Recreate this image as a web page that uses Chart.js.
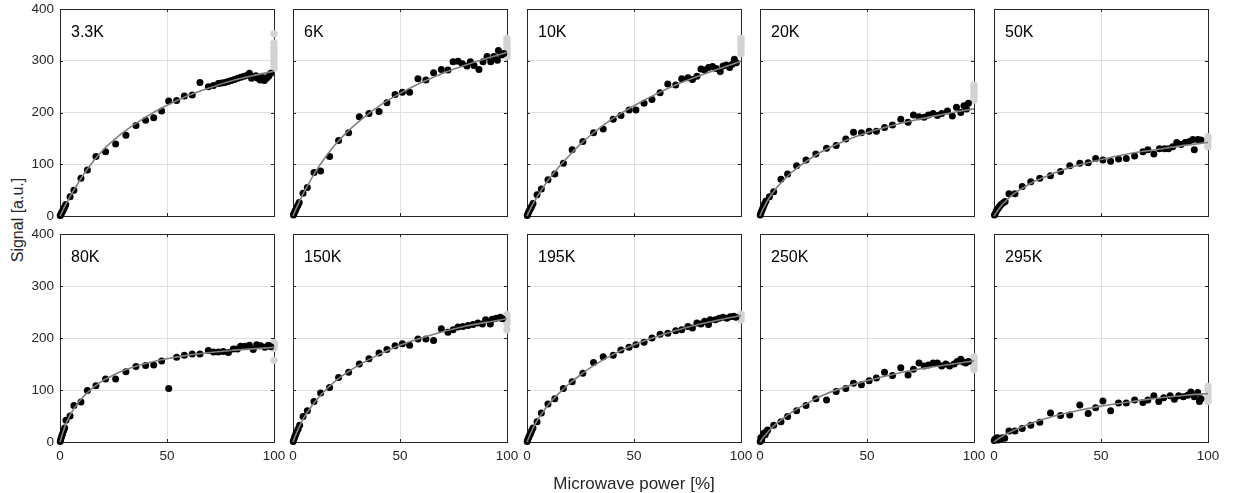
<!DOCTYPE html>
<html>
<head>
<meta charset="utf-8">
<script src="https://cdn.jsdelivr.net/npm/chart.js@4.4.1/dist/chart.umd.min.js"></script>
<style>
  html, body { margin: 0; padding: 0; background: #fff; }
  #wrap { position: relative; width: 1233px; height: 493px; overflow: hidden; background: #fff; }
  .cell { position: absolute; }
  #ytitle { position: absolute; left: 18px; top: 220px; transform: translate(-50%, -50%) rotate(-90deg);
            font: 16px "Liberation Sans", Arial, sans-serif; color: #262626; white-space: nowrap; }
</style>
</head>
<body>
<div id="wrap"><div id="ytitle">Signal [a.u.]</div></div>
<script>
// ---------- data ----------
const temperatures = ['3.3K','6K','10K','20K','50K','80K','150K','195K','250K','295K'];
const powerTicks = [0, 50, 100];
const signalTicks = [0, 100, 200, 300, 400];

// fit-curve sample positions (microwave power %) shared by all panels
const fitPower = [0,1,2,3,5,7.5,10,15,20,25,30,40,50,60,70,80,90,100];

const fit_3K3 = [0,8,17,25,40,57,74,103,127,146,163,191,214,233,248,261,271,280];
const fit_6K  = [0,10,19,28,45,64,82,113,139,161,180,212,237,258,276,291,304,316];
const fit_10K = [0,9,17,25,39,55,70,95,118,139,157,188,213,235,254,270,285,299];
const fit_20K = [0,10,18,26,39,53,65,85,101,115,127,146,161,173,183,192,200,207];
const fit_50K = [0,6,12,18,27,37,45,58,69,78,86,99,109,118,125,131,137,142];
const fit_80K = [0,14,26,37,54,70,83,103,118,129,138,151,160,167,172,176,179,182];
const fit_150K = [0,11,21,30,46,62,76,99,118,133,146,168,186,200,212,222,230,237];
const fit_195K = [0,10,19,28,43,58,72,94,113,129,144,168,187,202,215,226,235,243];
const fit_250K = [0,6,11,16,25,35,43,58,70,81,91,106,118,128,137,144,150,156];
const fit_295K = [0,3,6,9,14,19,24,32,40,46,52,61,69,75,81,86,90,93];

// measured points
const pow_3K3 = [0.1,0.4,0.7,1.0,1.4,1.8,2.2,2.7,4.7,6.5,9.8,12.8,16.8,21.3,26,30.8,35.5,40,43.8,47.5,50.8,54.5,58.1,61.8,65.4,69.3,71.7,74,75.5,77,78.5,80,81.5,83,84.5,86,87.5,88.5,89.5,90.5,91.5,92.5,93.5,94.5,95.5,96.5,97.5,98.5];
const sig_3K3 = [1,3,6,8,11,14,18,22,37,50,73,89,115,124,139,156,175,185,190,203,222,223,232,234,258,250,252,256,257,258,260,262,264,266,268,270,272,276,266,268,271,266,263,268,262,266,270,276];
const pow_6K = [0.2,0.5,0.9,1.3,1.8,2.3,2.9,4.7,6.7,9.8,12.9,17.1,21.3,26,31,35.5,40.2,43.9,47.7,51.1,54.5,58.4,62.1,65.7,69.3,72.4,74.8,77.1,79.1,81.3,82.9,84.6,86.9,88.8,90.7,92.4,93.9,95.5,96,97.4,98.5];
const sig_6K = [2,5,9,12,17,21,26,44,55,84,87,115,146,161,192,198,202,219,235,239,239,265,263,277,283,282,298,299,294,290,298,291,283,298,308,298,308,301,320,311,314];
const pow_10K = [0.1,0.4,0.8,1.2,1.7,2.2,2.8,4.7,6.7,9.8,13,17,21.1,26.1,31.1,35.6,40.3,43.9,47.7,50.9,54.7,58.4,62.2,65.8,69.5,72.3,75.2,77.3,79.4,81.3,83,84.8,86.7,88.4,90.3,91.6,93.1,94.7,95.9,96.9,97.8];
const sig_10K = [1,4,8,11,15,19,24,41,52,70,81,102,128,144,161,168,187,194,205,205,218,225,238,255,253,265,267,264,270,284,282,287,289,285,279,290,292,287,293,303,296];
const pow_20K = [0.1,0.4,0.8,1.2,1.7,2.2,2.8,4.4,6.4,9.8,12.9,17.1,21.5,26.1,31.1,35.6,40.1,43.7,47.4,51,54.4,58.2,61.9,65.8,69.2,71.7,74.3,76.7,78.7,80.9,82.9,84.9,87.6,89.9,91.8,93.8,95.3,96.5,97.4];
const sig_20K = [2,6,10,14,19,24,29,37,47,71,81,97,108,120,131,136,149,162,161,164,164,171,176,187,181,195,192,191,195,198,194,198,203,193,210,200,213,207,218];
const pow_50K = [0.2,0.6,1.0,1.5,2.0,2.6,3.3,4.2,5.2,7,9.8,13.2,17.2,21.4,26.4,31.1,35.4,40.1,44,47.5,50.9,54.5,58.2,61.8,65.7,69.6,71.9,74.7,77.3,79.7,81.5,83.5,85.4,87.4,89.3,91.3,92.9,93.6,95.2,96.7];
const sig_50K = [2,5,9,12,15,19,22,25,28,43,43,57,66,73,78,86,97,102,103,111,108,106,110,111,116,124,128,120,130,130,130,134,142,138,142,144,148,128,148,147];
const pow_80K = [0.1,0.4,0.8,1.2,1.7,2.2,2.8,4.7,6.5,9.8,12.8,16.8,21.3,26,30.8,35.5,40,43.8,47.5,50.8,54.5,58.1,61.8,65.4,69.3,71.7,74,76.3,78.7,81,82.9,84.4,86.4,88.5,90.3,91.9,93.8,95.8,97.4,98.5];
const sig_80K = [1,6,11,16,22,27,42,50,70,77,99,108,121,121,135,145,147,148,156,103,163,167,169,169,176,173,173,174,172,179,179,184,184,186,178,187,185,182,186,183];
const pow_150K = [0.1,0.4,0.8,1.3,1.8,2.4,3.1,4.7,6.7,9.8,12.9,17.1,21.3,26,31,35.5,40.2,43.9,47.7,51.1,54.5,58.4,62.1,65.7,69.3,72.4,74.8,77.1,79.4,81.8,84.1,86.4,88.5,90,92.2,93.1,95,96.9,97.8];
const sig_150K = [1,5,10,15,20,25,32,49,60,78,94,105,124,134,150,160,171,178,185,189,186,198,198,195,218,211,216,221,222,224,226,229,227,235,227,236,238,240,237];
const pow_195K = [0.1,0.4,0.8,1.2,1.7,2.2,2.8,4.7,6.7,9.8,13,17,21.1,26.1,31.1,35.6,40.3,43.9,47.7,50.9,54.7,58.4,62.2,65.8,69.5,72.3,75.2,77.3,79.4,81.3,83,84.8,85.6,88,89.8,91.6,93.4,95,96.6,97.6];
const sig_195K = [1,5,9,13,17,22,27,39,56,73,83,103,116,132,153,164,167,177,182,187,192,200,207,209,214,216,222,219,229,227,232,226,235,235,238,240,238,241,242,240];
const pow_250K = [0.1,0.4,0.8,1.3,1.8,2.4,3.0,3.6,6.4,9.8,12.9,17.1,21.5,26.1,31.1,35.6,40.1,43.7,47.4,51,54.4,58.2,61.9,65.8,69.2,71.7,74.3,76.7,78.7,80.9,82.9,84.9,86.8,88.6,90.7,92.2,93.8,95,96.1,97.4];
const sig_250K = [1,8,4,12,17,14,20,23,32,39,49,60,70,83,81,97,103,113,110,118,123,134,128,143,129,140,152,146,148,152,152,146,150,146,150,155,159,154,152,155];
const pow_295K = [0.1,0.5,1.0,1.5,2.0,2.5,3.2,4.0,5.0,7,9.8,13.2,17.2,21.4,26.4,31.1,35.4,40.1,44,47.5,50.9,54.5,58.2,61.8,65.7,69.6,71.9,74.7,77,79.3,82.3,84.3,86.3,88.5,90.5,92,93.6,95.2,96,96.7];
const sig_295K = [3,6,5,8,4,7,6,8,7,21,21,26,32,38,56,51,52,71,55,66,79,60,75,75,81,76,81,89,78,85,89,82,89,87,90,96,87,95,78,83];

// light grey points recorded at full power (100 %)
const gray_3K3 = [285,292,298,305,312,318,325,334,352];
const gray_6K = [308,314,320,326,332,338,343];
const gray_10K = [314,320,326,332,338,343];
const gray_20K = [224,230,236,242,248,253];
const gray_50K = [134,138,148,153];
const gray_80K = [157,180,184,188,191];
const gray_150K = [216,228,234,240,245];
const gray_195K = [235,239,243,246];
const gray_250K = [139,145,152,158,164];
const gray_295K = [78,85,92,100,107];
const grayPower = 100;

// ---------- layout ----------
const plotLefts = [60, 293, 527, 760, 994];
const plotTops = [9, 234];
const plotW = 214;
const plotHs = [207, 208];
const FONT = '"Liberation Sans", Arial, sans-serif';
const INK = '#262626';

Chart.defaults.font.family = FONT;
Chart.defaults.color = INK;

const series = [
  [pow_3K3, sig_3K3, fit_3K3, gray_3K3],
  [pow_6K, sig_6K, fit_6K, gray_6K],
  [pow_10K, sig_10K, fit_10K, gray_10K],
  [pow_20K, sig_20K, fit_20K, gray_20K],
  [pow_50K, sig_50K, fit_50K, gray_50K],
  [pow_80K, sig_80K, fit_80K, gray_80K],
  [pow_150K, sig_150K, fit_150K, gray_150K],
  [pow_195K, sig_195K, fit_195K, gray_195K],
  [pow_250K, sig_250K, fit_250K, gray_250K],
  [pow_295K, sig_295K, fit_295K, gray_295K],
];

const boxPlugin = {
  id: 'box',
  beforeDatasetsDraw(chart, args, opts) {
    const {ctx, chartArea: a, scales} = chart;
    ctx.save();
    ctx.strokeStyle = INK;
    ctx.lineWidth = 1;
    const tl = 3;
    ctx.beginPath();
    scales.x.ticks.forEach(t => {
      const px = Math.round(scales.x.getPixelForValue(t.value)) + 0.5;
      ctx.moveTo(px, a.bottom); ctx.lineTo(px, a.bottom - tl);
      ctx.moveTo(px, a.top); ctx.lineTo(px, a.top + tl);
    });
    scales.y.ticks.forEach(t => {
      const py = Math.round(scales.y.getPixelForValue(t.value)) + 0.5;
      ctx.moveTo(a.left, py); ctx.lineTo(a.left + tl, py);
      ctx.moveTo(a.right, py); ctx.lineTo(a.right - tl, py);
    });
    ctx.stroke();
    ctx.strokeRect(Math.round(a.left) + 0.5, Math.round(a.top) + 0.5, Math.round(a.right - a.left), Math.round(a.bottom - a.top));
    ctx.restore();
  },
  afterDraw(chart, args, opts) {
    const {ctx, chartArea: a} = chart;
    ctx.save();
    ctx.font = '16px ' + FONT;
    ctx.fillStyle = '#000';
    ctx.textBaseline = 'alphabetic';
    ctx.fillText(opts.label, a.left + 11, a.top + 28);
    ctx.restore();
  }
};

const wrap = document.getElementById('wrap');
const Y_W = 50, X_H = 60, PAD_T = 12, PAD_R = 20;

temperatures.forEach((name, i) => {
  const row = Math.floor(i / 5), col = i % 5;
  const [px, py, fy, gy] = series[i];
  const plotH = plotHs[row];
  const W = Y_W + plotW + PAD_R, H = PAD_T + plotH + X_H;
  const div = document.createElement('div');
  div.className = 'cell';
  div.style.width = W + 'px';
  div.style.height = H + 'px';
  const cv = document.createElement('canvas');
  cv.width = W; cv.height = H;
  cv.style.width = W + 'px'; cv.style.height = H + 'px';
  div.appendChild(cv);
  wrap.appendChild(div);

  const showX = row === 1, showY = col === 0;
  const chart = new Chart(cv, {
    type: 'scatter',
    data: {
      datasets: [
        {
          label: 'fit', data: fitPower.map((p, k) => ({x: p, y: fy[k]})),
          showLine: true, borderColor: '#808080', borderWidth: 1.6, pointRadius: 0,
          cubicInterpolationMode: 'monotone', order: 0, clip: false
        },
        {
          label: 'data', data: px.map((p, k) => ({x: p, y: py[k]})),
          pointRadius: 3.5, pointBackgroundColor: '#000', pointBorderWidth: 0,
          backgroundColor: '#000', borderColor: '#000', order: 1, clip: false
        },
        {
          label: 'full power', data: gy.map(v => ({x: grayPower, y: v})),
          pointRadius: 3.7, pointBackgroundColor: '#d3d3d3', pointBorderWidth: 0,
          backgroundColor: '#d3d3d3', borderColor: '#d3d3d3', order: 2, clip: false
        }
      ]
    },
    options: {
      responsive: false, animation: false, devicePixelRatio: 1,
      layout: { autoPadding: false, padding: {top: PAD_T, right: PAD_R, left: 0, bottom: 0} },
      plugins: { legend: {display: false}, tooltip: {enabled: false}, box: {label: name} },
      scales: {
        x: {
          type: 'linear', min: 0, max: 100,
          afterBuildTicks: s => { s.ticks = powerTicks.map(v => ({value: v})); },
          ticks: { display: showX, font: {size: 13.5}, color: INK, padding: 6, maxRotation: 0 },
          grid: { color: '#e0e0e0', drawTicks: false, lineWidth: 1 },
          border: { display: false },
          title: { display: showX && i === 7, text: 'Microwave power [%]', font: {size: 17}, color: INK, padding: {top: 0, bottom: 7} },
          afterFit: s => { s.height = X_H; s.paddingLeft = 0; s.paddingRight = 0; }
        },
        y: {
          type: 'linear', min: 0, max: 400,
          afterBuildTicks: s => { s.ticks = signalTicks.map(v => ({value: v})); },
          ticks: { display: showY, font: {size: 13.5}, color: INK, padding: 6 },
          grid: { color: '#e0e0e0', drawTicks: false, lineWidth: 1 },
          border: { display: false },
          afterFit: s => { s.width = Y_W; s.paddingTop = 0; s.paddingBottom = 0; }
        }
      }
    },
    plugins: [boxPlugin]
  });
  const a = chart.chartArea;
  div.style.left = (plotLefts[col] - a.left) + 'px';
  div.style.top = (plotTops[row] - a.top) + 'px';
  if (i === 0) div.style.zIndex = 1;
});
</script>
</body>
</html>
